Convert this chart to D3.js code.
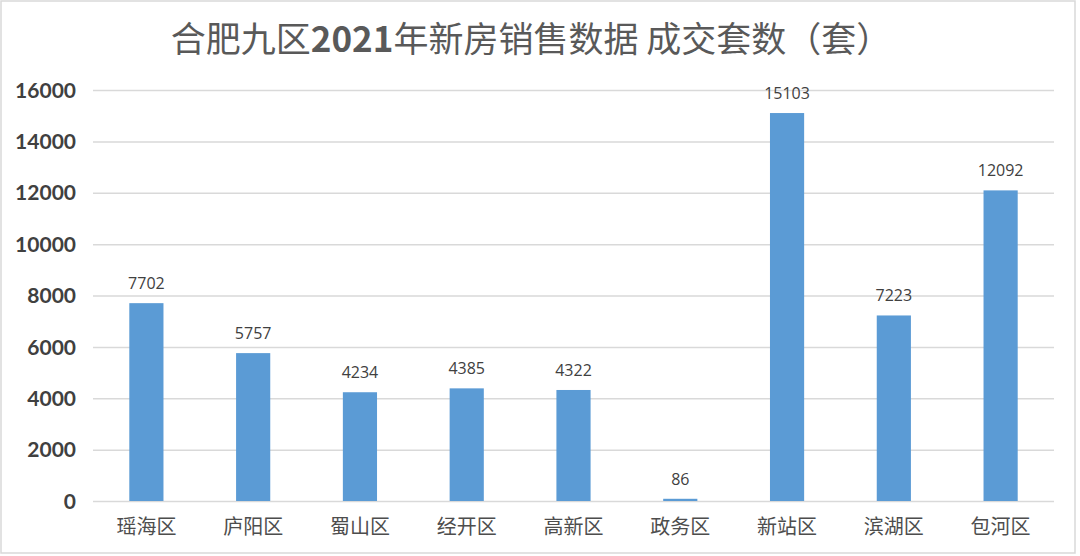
<!DOCTYPE html>
<html><head><meta charset="utf-8">
<script src="https://cdn.jsdelivr.net/npm/d3@7"></script>
<style>body{margin:0;background:#fff;}svg{display:block;}</style>
</head><body>
<svg id="c" width="1080" height="556"></svg>
<script>
const categories = ["瑶海区","庐阳区","蜀山区","经开区","高新区","政务区","新站区","滨湖区","包河区"];
const values = [7702,5757,4234,4385,4322,86,15103,7223,12092];
const yTicks = [0,2000,4000,6000,8000,10000,12000,14000,16000];
const titleParts = ["合肥九区","2021","年新房销售数据 成交套数（套）"];

const svg = d3.select("#c");
const m = {left:93, right:1054, top:90, bottom:501};

svg.append("rect").attr("x",1).attr("y",1).attr("width",1074).attr("height",552)
  .attr("fill","#fff").attr("stroke","#d9d9d9").attr("stroke-width",1.5);

const x = d3.scaleBand().domain(categories).range([m.left,m.right]).paddingInner(0.68).paddingOuter(0.34);
const y = d3.scaleLinear().domain([0,16000]).range([m.bottom,m.top]);

const yAxis = d3.axisLeft(y).tickValues(yTicks).tickSize(-(m.right-m.left)).tickFormat(d=>d);
const gy = svg.append("g").attr("transform",`translate(${m.left},0)`).call(yAxis);
gy.select(".domain").remove();
gy.selectAll(".tick line").attr("stroke","#d9d9d9").attr("stroke-width",1.5);
gy.selectAll(".tick text").attr("x",-17).attr("dy","0.34em")
  .style("font-family","Lato, 'Noto Sans', sans-serif").style("font-weight","bold")
  .style("font-size","21px").attr("fill","#404040");

svg.append("g").selectAll("rect").data(values).join("rect")
  .attr("x",(d,i)=>x(categories[i])).attr("width",x.bandwidth())
  .attr("y",d=>y(d)).attr("height",d=>y(0)-y(d)).attr("fill","#5b9bd5");

svg.append("g").selectAll("text").data(values).join("text")
  .attr("x",(d,i)=>x(categories[i])+x.bandwidth()/2).attr("y",d=>y(d)-14)
  .attr("text-anchor","middle").style("font-family","'Open Sans', 'Noto Sans', sans-serif")
  .style("font-size","16px").attr("fill","#404040").text(d=>d);

const xAxis = d3.axisBottom(x).tickSize(0).tickPadding(0);
const gx = svg.append("g").attr("transform",`translate(0,${m.bottom})`).call(xAxis);
gx.select(".domain").remove();
gx.selectAll(".tick text").attr("y",26).attr("dy","0.34em")
  .style("font-family","'Noto Sans CJK SC', sans-serif").style("font-size","20px").attr("fill","#4d4d4d");

const t = svg.append("text").attr("x",531).attr("y",52).attr("text-anchor","middle")
  .style("font-family","'Noto Sans CJK SC', sans-serif").style("font-size","35px").attr("fill","#595959");
titleParts.forEach((p,i)=>{
  t.append("tspan").text(p).style("font-weight", i===1?"bold":"normal");
});
</script>
</body></html>
